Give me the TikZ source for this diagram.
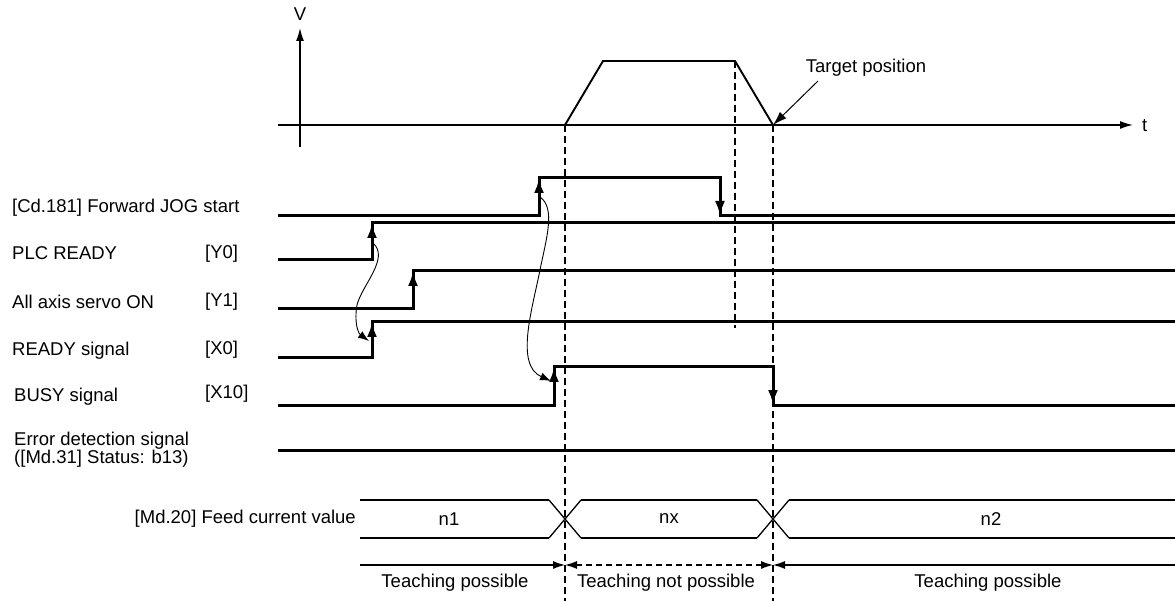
\documentclass[tikz,border=0pt]{standalone}
\usepackage{fontspec}
\setmainfont{Liberation Sans}
\usepackage{tikz}
\usetikzlibrary{arrows.meta,calc,positioning}
\definecolor{thin}{RGB}{85,85,85}

\begin{document}
\begin{tikzpicture}[x=1pt,y=-1pt,font=\fontsize{18.5}{18}\selectfont,
  lbl/.style={inner sep=0pt},
  sig/.style={line width=3pt,line join=miter},
  edge/.style={line width=3pt,-{Latex[length=15pt,width=10pt]}},
  ax/.style={line width=1.3pt},
  guide/.style={line width=1.1pt,dash pattern=on 7pt off 4pt},
  link/.style={thin,line width=0.9pt,-{Latex[length=11pt,width=8pt]}},
  span/.style={line width=1.1pt}]
  \useasboundingbox (0,0) rectangle (1175,601);
  % speed curve
  \draw[ax,-{Latex[length=13pt,width=8pt]}] (300,147) -- (300,28);
  \node[lbl] (vlab) at (300,14) {V};
  \draw[ax,-{Latex[length=13pt,width=8pt]}] (278,125) -- (1133,125);
  \node[lbl,anchor=west] (tlab) at (1142,126) {t};
  \draw[line width=1.9pt,line join=miter] (565,125) -- (603,61) -- (735,61) -- (773,125);
  \node[lbl] (target) at (866,68) {Target position};
  \coordinate (tfoot) at (818,81); \coordinate (tpos) at (773,125);
  \draw[link,line width=1pt,-{Latex[length=14pt,width=9pt]}] (tfoot) -- (tpos);
  \draw[guide] (565,125) -- (565,601); \draw[guide] (735,61) -- (735,328); \draw[guide] (773,125) -- (773,601);
  % signal names
  \node[lbl,anchor=west] (jog) at (12,208) {[Cd.181] Forward JOG start};
  \node[lbl,anchor=west] (plc) at (12,253) {PLC READY};
  \node[lbl,anchor=west] (plcdev) at (205,254) {[Y0]};
  \node[lbl,anchor=west] (srv) at (12,302) {All axis servo ON};
  \node[lbl,anchor=west] (srvdev) at (205,302) {[Y1]};
  \node[lbl,anchor=west] (rdy) at (12,351) {READY signal};
  \node[lbl,anchor=west] (rdydev) at (205,350) {[X0]};
  \node[lbl,anchor=west] (busy) at (14,397) {BUSY signal};
  \node[lbl,anchor=west] (busydev) at (205,394) {[X10]};
  \node[lbl,anchor=north west,align=left] (err) at (14,432) {Error detection signal\\([Md.31] Status: b13)};
  \node[lbl,anchor=east] (feed) at (356,519) {[Md.20] Feed current value};
  % waveforms
  \draw[sig] (278,216) -- (539,216) -- (539,178) -- (720,178) -- (720,216) -- (1175,216);
  \draw[edge] (539,200) -- (539,178); \draw[edge] (720,195) -- (720,216);
  \draw[sig] (278,260) -- (372,260) -- (372,223) -- (1175,223); \draw[edge] (372,245) -- (372,223);
  \draw[sig] (278,309) -- (413,309) -- (413,271) -- (1175,271); \draw[edge] (413,293) -- (413,271);
  \draw[sig] (278,358) -- (372,358) -- (372,322) -- (1175,322); \draw[edge] (372,344) -- (372,322);
  \draw[sig] (278,405) -- (554,405) -- (554,367) -- (773,367) -- (773,405) -- (1175,405);
  \draw[edge] (554,389) -- (554,367); \draw[edge] (773,385) -- (773,405);
  \draw[sig] (278,450) -- (1175,450);
  \coordinate (plcrise) at (373,243); \coordinate (rdyrise) at (369,341);
  \draw[link] (plcrise) .. controls (390,258) and (362,285) .. (357,305) .. controls (354,322) and (358,333) .. (rdyrise);
  \coordinate (jogrise) at (540,197); \coordinate (busyrise) at (551,381);
  \draw[link] (jogrise) .. controls (556,208) and (546,240) .. (540,270) .. controls (532,310) and (515,365) .. (busyrise);
  % feed value
  \foreach \a/\b in {360/549,581/757,789/1175} {\draw[sig,line width=2.6pt] (\a,500) -- (\b,500) (\a,538) -- (\b,538);}
  \foreach \c in {565,773} {\draw[ax] (\c-16,500) -- (\c+16,538) (\c-16,538) -- (\c+16,500);}
  \node[lbl] (n1) at (449,519) {n1};
  \node[lbl] (nx) at (669,519) {nx};
  \node[lbl] (n2) at (991,519) {n2};
  % teaching
  \coordinate (s0) at (360,565); \coordinate (s1) at (565,565); \coordinate (s2) at (773,565); \coordinate (s3) at (1175,565);
  \draw[span,-{Latex[length=12pt,width=8pt]}] (s0) -- (s1);
  \draw[span,dash pattern=on 6pt off 4pt,{Latex[length=12pt,width=8pt]}-{Latex[length=12pt,width=8pt]}] (s1) -- (s2);
  \draw[span,{Latex[length=12pt,width=8pt]}-] (s2) -- (s3);
  \node[lbl] (tp1) at (455,583) {Teaching possible};
  \node[lbl] (tnp) at (666,583) {Teaching not possible};
  \node[lbl] (tp2) at (988,583) {Teaching possible};
\end{tikzpicture}
\end{document}
